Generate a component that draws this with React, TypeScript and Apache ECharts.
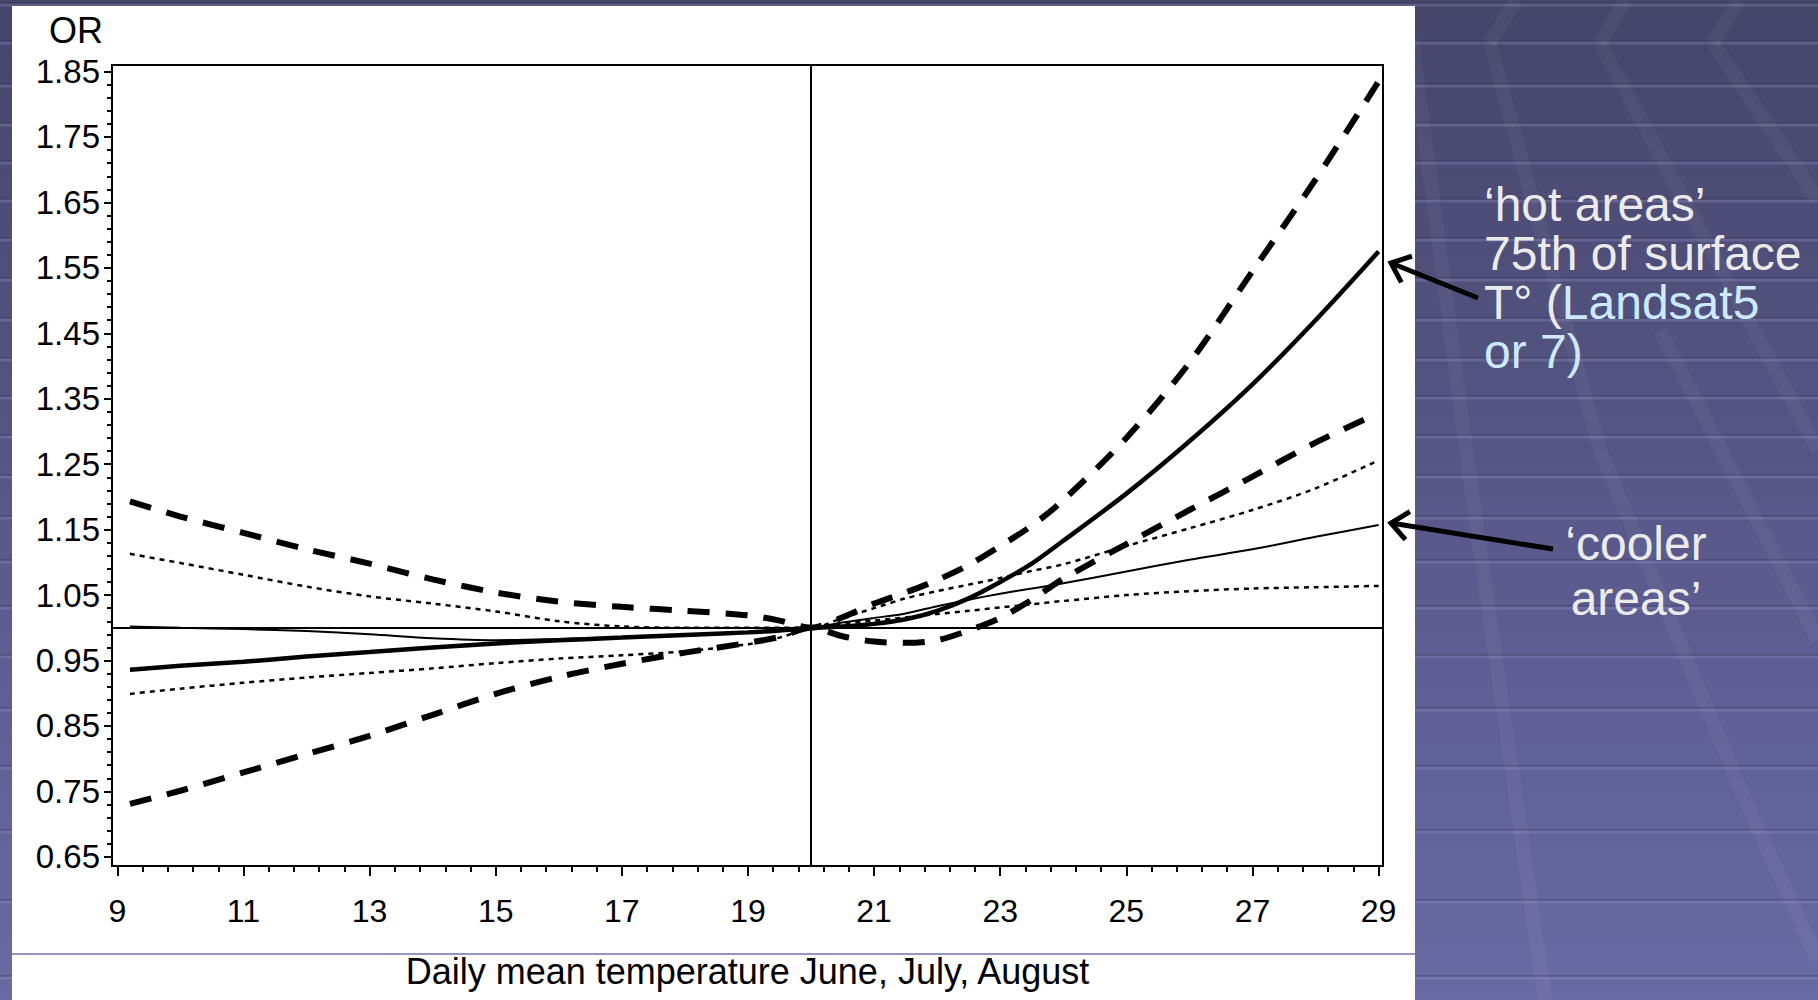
import React, { useEffect, useRef } from "react";
import * as echarts from "echarts";

// ---------------- data ----------------
const xTicks = [9, 11, 13, 15, 17, 19, 21, 23, 25, 27, 29];
const yTicks = [0.65, 0.75, 0.85, 0.95, 1.05, 1.15, 1.25, 1.35, 1.45, 1.55, 1.65, 1.75, 1.85];

const temps = [9.2, 10, 11, 12, 13, 14, 15, 16, 17, 18, 19, 19.5, 20, 20.5, 21, 21.5, 22, 22.5, 23, 23.5, 24, 25, 26, 27, 28, 29];

// 'hot areas' (75th percentile of surface temperature): thick lines
const hotUpper = [1.193, 1.170, 1.145, 1.120, 1.098, 1.074, 1.054, 1.040, 1.032, 1.026, 1.019, 1.011, 1.0, 1.016, 1.037, 1.054, 1.073, 1.096, 1.125, 1.156, 1.195, 1.29, 1.405, 1.545, 1.685, 1.835];
const hotMid = [0.936, 0.942, 0.948, 0.956, 0.963, 0.970, 0.976, 0.981, 0.985, 0.989, 0.993, 0.996, 1.0, 1.002, 1.006, 1.013, 1.026, 1.045, 1.07, 1.098, 1.133, 1.205, 1.285, 1.372, 1.47, 1.575];
const hotLower = [0.731, 0.751, 0.779, 0.807, 0.835, 0.867, 0.899, 0.925, 0.945, 0.962, 0.977, 0.986, 1.0, 0.987, 0.979, 0.977, 0.981, 0.996, 1.015, 1.043, 1.075, 1.128, 1.18, 1.231, 1.283, 1.328];

// 'cooler areas': thin lines
const coolUpper = [1.113, 1.099, 1.081, 1.063, 1.048, 1.037, 1.025, 1.01, 1.002, 1.0, 1.0, 1.0, 1.0, 1.015, 1.03, 1.045, 1.056, 1.066, 1.076, 1.087, 1.097, 1.125, 1.152, 1.18, 1.213, 1.256];
const coolMid = [1.002, 1.0, 0.998, 0.995, 0.99, 0.984, 0.981, 0.983, 0.986, 0.989, 0.993, 0.996, 1.0, 1.008, 1.015, 1.022, 1.033, 1.043, 1.052, 1.06, 1.068, 1.086, 1.104, 1.12, 1.139, 1.157];
const coolLower = [0.899, 0.907, 0.916, 0.924, 0.931, 0.938, 0.946, 0.953, 0.958, 0.964, 0.975, 0.985, 1.0, 1.006, 1.011, 1.016, 1.021, 1.026, 1.031, 1.036, 1.041, 1.05, 1.056, 1.06, 1.062, 1.064];

const refX = 20;
const refY = 1;

const yName = "OR";
const xName = "Daily mean temperature June, July, August";

// ---------------- helpers ----------------
const FONT = "'Liberation Sans', Arial, Helvetica, sans-serif";

function minorTicks(start: number, end: number, step: number, majors: number[]) {
  const out: number[] = [];
  const n = Math.round((end - start) / step);
  for (let i = 0; i <= n; i++) {
    const v = Math.round((start + i * step) * 1000) / 1000;
    if (!majors.some((m) => Math.abs(m - v) < 1e-6)) out.push(v);
  }
  return out;
}
const xMinor = minorTicks(9, 29, 0.4, xTicks);
const yMinor = minorTicks(0.65, 1.85, 0.02, yTicks);

const pairs = (ys: number[]) => temps.map((t, i) => [t, ys[i]]);

function arrow(tail: number[], tip: number[], len: number) {
  const dx = tail[0] - tip[0];
  const dy = tail[1] - tip[1];
  const L = Math.hypot(dx, dy);
  const ux = dx / L, uy = dy / L;
  const a = (40 * Math.PI) / 180;
  const c = Math.cos(a), s = Math.sin(a);
  const b1 = [tip[0] + len * (ux * c - uy * s), tip[1] + len * (ux * s + uy * c)];
  const b2 = [tip[0] + len * (ux * c + uy * s), tip[1] + len * (-ux * s + uy * c)];
  return [
    { type: "polyline", z: 100, shape: { points: [tail, tip] }, style: { stroke: "#000", lineWidth: 5, fill: null } },
    { type: "polyline", z: 100, shape: { points: [b1, tip, b2] }, style: { stroke: "#000", lineWidth: 5, fill: null, lineJoin: "miter" } },
  ];
}

// decorative slide background
const stripeYs = [5, 43, 86, 125, 163, 201, 240, 280, 320, 360, 398, 437, 477, 518, 562, 608, 657, 710, 768, 832, 902, 978];
const diagonals = [
  [[1412, 40], [1470, 480], [1545, 1000]],
  [[1490, 43], [1600, 450], [1745, 800], [1818, 960]],
  [[1600, 43], [1818, 450]],
  [[1713, 43], [1818, 200]],
  [[1490, 43], [1516, 0]],
  [[1600, 43], [1626, 0]],
  [[1713, 43], [1739, 0]],
  [[1660, 330], [1818, 640]],
];

const decor: any[] = [];
stripeYs.forEach((y) => {
  decor.push({ type: "line", z: -30, silent: true, shape: { x1: 0, y1: y - 2, x2: 1818, y2: y - 2 }, style: { stroke: "rgba(35,35,60,0.25)", lineWidth: 2 } });
  decor.push({ type: "line", z: -29, silent: true, shape: { x1: 0, y1: y, x2: 1818, y2: y }, style: { stroke: "rgba(140,140,195,0.35)", lineWidth: 3 } });
});
diagonals.forEach((pts) => {
  decor.push({ type: "polyline", z: -28, silent: true, shape: { points: pts }, style: { stroke: "rgba(255,255,255,0.045)", lineWidth: 14, fill: null } });
});

export default function App() {
  const ref = useRef<HTMLDivElement>(null);

  useEffect(() => {
    if (!ref.current) return;
    const chart = echarts.init(ref.current, undefined, { renderer: "svg", width: 1818, height: 1000 });

    const textWhite = "#ebebeb";
    const textBlue = "#cde9ff";

    const option: any = {
      animation: false,
      backgroundColor: "transparent",
      grid: {
        left: 112,
        top: 65,
        width: 1271,
        height: 801,
        show: true,
        backgroundColor: "#ffffff",
        borderColor: "#000",
        borderWidth: 2,
        containLabel: false,
        outerBoundsMode: "none",
      },
      xAxis: [
        {
          type: "value",
          min: 8.915,
          max: 29.07,
          position: "bottom",
          axisLine: { show: false },
          splitLine: { show: false },
          axisTick: { show: true, customValues: xTicks, length: 10, lineStyle: { color: "#000", width: 2 } },
          axisLabel: { show: true, customValues: xTicks, margin: 29, fontSize: 32, color: "#000", fontFamily: FONT },
          name: xName,
          nameLocation: "middle",
          nameGap: 87,
          nameTextStyle: { fontSize: 36, color: "#000", fontFamily: FONT },
        },
        {
          type: "value",
          min: 8.915,
          max: 29.07,
          position: "bottom",
          axisLine: { show: false },
          splitLine: { show: false },
          axisLabel: { show: false },
          axisTick: { show: true, customValues: xMinor, length: 6, lineStyle: { color: "#000", width: 2 } },
        },
      ],
      yAxis: [
        {
          type: "value",
          min: 0.636,
          max: 1.86,
          position: "left",
          axisLine: { show: false },
          splitLine: { show: false },
          axisTick: { show: true, customValues: yTicks, length: 8, lineStyle: { color: "#000", width: 2 } },
          axisLabel: {
            show: true,
            customValues: yTicks,
            margin: 12,
            fontSize: 33,
            color: "#000",
            fontFamily: FONT,
            padding: [12, 0, 0, 0],
            formatter: (v: number) => v.toFixed(2),
          },
          name: yName,
          nameLocation: "end",
          nameGap: 35,
          nameTextStyle: { fontSize: 36, color: "#000", fontFamily: FONT, align: "right", verticalAlign: "middle", padding: [0, 9, 0, 0] },
        },
        {
          type: "value",
          min: 0.636,
          max: 1.86,
          position: "left",
          axisLine: { show: false },
          splitLine: { show: false },
          axisLabel: { show: false },
          axisTick: { show: true, customValues: yMinor, length: 5, lineStyle: { color: "#000", width: 2 } },
        },
      ],
      series: [
        {
          name: "cooler lower",
          type: "line",
          data: pairs(coolLower),
          symbol: "none",
          smooth: 0.3,
          lineStyle: { color: "#000", width: 2.5, type: [5, 5] },
          markLine: {
            silent: true,
            symbol: ["none", "none"],
            label: { show: false },
            lineStyle: { color: "#000", width: 2, type: "solid" },
            data: [{ xAxis: refX }, { yAxis: refY }],
          },
        },
        { name: "cooler upper", type: "line", data: pairs(coolUpper), symbol: "none", smooth: 0.3, lineStyle: { color: "#000", width: 2.5, type: [5, 5] } },
        { name: "cooler", type: "line", data: pairs(coolMid), symbol: "none", smooth: 0.3, lineStyle: { color: "#000", width: 2 } },
        { name: "hot lower", type: "line", data: pairs(hotLower), symbol: "none", smooth: 0.3, lineStyle: { color: "#000", width: 6, type: [22, 16] } },
        { name: "hot upper", type: "line", data: pairs(hotUpper), symbol: "none", smooth: 0.3, lineStyle: { color: "#000", width: 6, type: [22, 16] } },
        { name: "hot", type: "line", data: pairs(hotMid), symbol: "none", smooth: 0.3, lineStyle: { color: "#000", width: 4.5 } },
      ],
      graphic: [
        ...decor,
        { type: "rect", z: -20, silent: true, shape: { x: 12, y: 6, width: 1403, height: 994 }, style: { fill: "#ffffff" } },
        { type: "line", z: -19, silent: true, shape: { x1: 12, y1: 954, x2: 1415, y2: 954 }, style: { stroke: "#7272ae", lineWidth: 1.5 } },
        { type: "text", z: 100, x: 1484, y: 204, style: { text: "‘hot areas’", fill: textWhite, fontSize: 48, fontFamily: FONT, verticalAlign: "middle", align: "left" } },
        { type: "text", z: 100, x: 1484, y: 253, style: { text: "75th of surface", fill: textWhite, fontSize: 48, fontFamily: FONT, verticalAlign: "middle", align: "left" } },
        {
          type: "text",
          z: 100,
          x: 1484,
          y: 302,
          style: {
            text: "T° ({b|Landsat5}",
            fill: textWhite,
            fontSize: 48,
            fontFamily: FONT,
            verticalAlign: "middle",
            align: "left",
            rich: { b: { fill: textBlue, fontSize: 48, fontFamily: FONT } },
          },
        },
        { type: "text", z: 100, x: 1484, y: 351, style: { text: "or 7)", fill: textBlue, fontSize: 48, fontFamily: FONT, verticalAlign: "middle", align: "left" } },
        { type: "text", z: 100, x: 1636, y: 543, style: { text: "‘cooler", fill: textWhite, fontSize: 48, fontFamily: FONT, verticalAlign: "middle", align: "center" } },
        { type: "text", z: 100, x: 1636, y: 598, style: { text: "areas’", fill: textWhite, fontSize: 48, fontFamily: FONT, verticalAlign: "middle", align: "center" } },
        ...arrow([1478, 298], [1391, 263], 22),
        ...arrow([1553, 549], [1391, 523], 22),
      ],
    };

    chart.setOption(option);
    return () => chart.dispose();
  }, []);

  return (
    <div
      ref={ref}
      style={{
        position: "fixed",
        left: 0,
        top: 0,
        width: 1818,
        height: 1000,
        background: "linear-gradient(180deg, #45456a 0%, #52527f 35%, #5f5f96 70%, #6a6aa4 100%)",
      }}
    />
  );
}
